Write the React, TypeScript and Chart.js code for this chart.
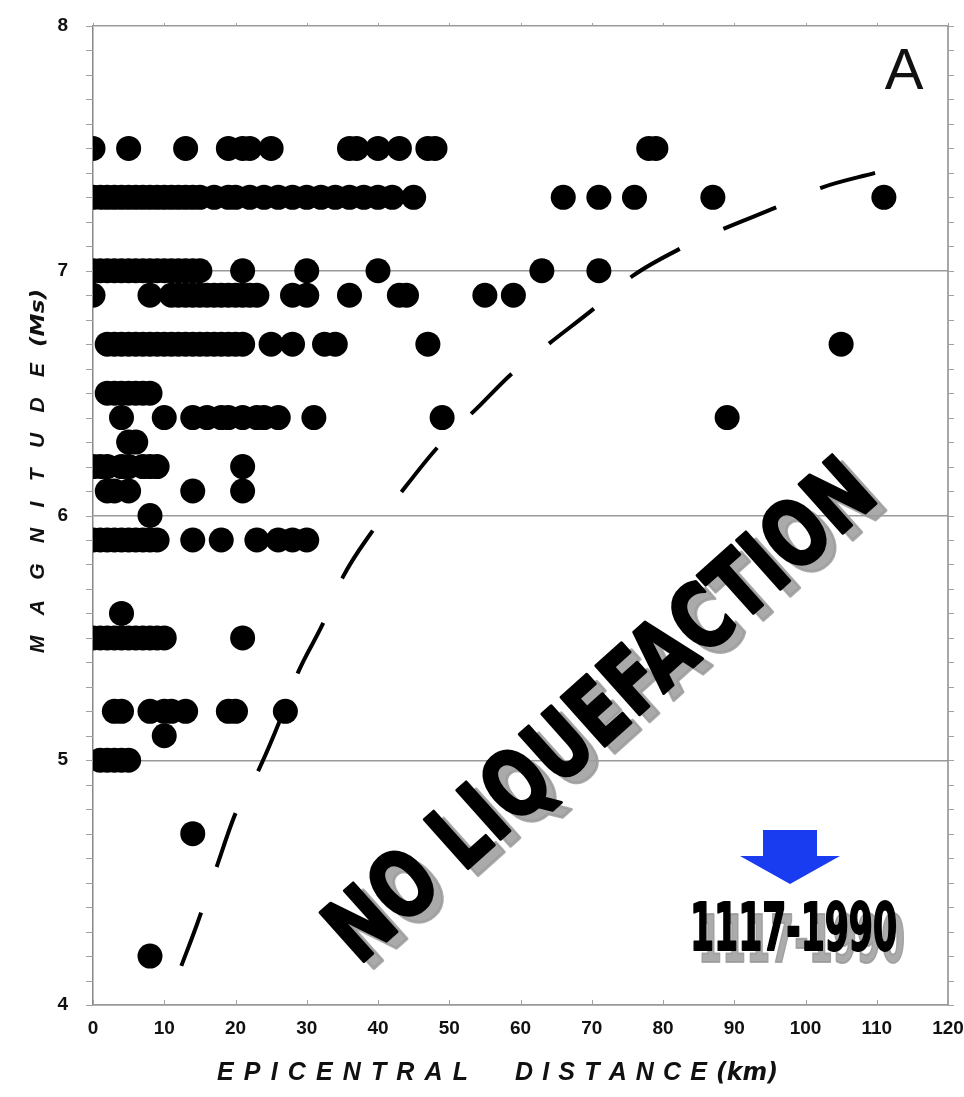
import React, { useEffect, useRef } from 'react';
import { Chart, registerables } from 'chart.js';

Chart.register(...registerables);

// ---- axis ticks ----
const xTickValues = [0, 10, 20, 30, 40, 50, 60, 70, 80, 90, 100, 110, 120];
const yTickValues = [4, 5, 6, 7, 8];

// ---- observed liquefaction cases: epicentral distance (km) per magnitude row ----
const dist75 = [0, 5, 13, 19, 21, 22, 25, 36, 37, 40, 43, 47, 48, 78, 79];
const dist73 = [0, 1, 2, 3, 4, 5, 6, 7, 8, 9, 10, 11, 12, 13, 14, 15, 17, 19, 20, 22, 24, 26, 28, 30, 32, 34, 36, 38, 40, 42, 45, 66, 71, 76, 87, 111];
const dist70 = [0, 1, 2, 3, 4, 5, 6, 7, 8, 9, 10, 11, 12, 13, 14, 15, 21, 30, 40, 63, 71];
const dist69 = [0, 8, 11, 12, 13, 14, 15, 16, 17, 18, 19, 20, 21, 22, 23, 28, 30, 36, 43, 44, 55, 59];
const dist67 = [2, 3, 4, 5, 6, 7, 8, 9, 10, 11, 12, 13, 14, 15, 16, 17, 18, 19, 20, 21, 25, 28, 32.5, 34, 47, 105];
const dist65 = [2, 3, 4, 5, 6, 7, 8];
const dist64 = [4, 10, 14, 16, 18, 19, 21, 23, 24, 26, 31, 49, 89];
const dist63 = [5, 6];
const dist62 = [0, 1, 2, 4, 5, 7, 8, 9, 21];
const dist61 = [2, 3, 5, 14, 21];
const dist60 = [8];
const dist59 = [0, 1, 2, 3, 4, 5, 6, 7, 8, 9, 14, 18, 23, 26, 28, 30];
const dist56 = [4];
const dist55 = [0, 1, 2, 3, 4, 5, 6, 7, 8, 9, 10, 21];
const dist52 = [3, 4, 8, 10, 11, 13, 19, 20, 27];
const dist51 = [10];
const dist50 = [1, 2, 3, 4, 5];
const dist47 = [14];
const dist42 = [8];

const magnitudeRows = [7.5, 7.3, 7.0, 6.9, 6.7, 6.5, 6.4, 6.3, 6.2, 6.1, 6.0, 5.9, 5.6, 5.5, 5.2, 5.1, 5.0, 4.7, 4.2];
const distanceRows = [dist75, dist73, dist70, dist69, dist67, dist65, dist64, dist63, dist62, dist61, dist60, dist59, dist56, dist55, dist52, dist51, dist50, dist47, dist42];

// ---- bounding curve (dashed) ----
const boundaryDistance = [12.4, 14.6, 17.3, 20.1, 23.4, 26.2, 28.8, 32.3, 35.1, 39.3, 43.4, 48.4, 54.3, 58.8, 63.9, 70.5, 75.8, 82.4, 88.4, 96, 102.3, 109.8];
const boundaryMagnitude = [4.16, 4.33, 4.56, 4.79, 4.97, 5.16, 5.36, 5.56, 5.75, 5.94, 6.1, 6.28, 6.45, 6.58, 6.7, 6.85, 6.98, 7.09, 7.17, 7.26, 7.34, 7.4];

// ---- texts ----
const panelLabel = 'A';
const regionLabel = 'NO LIQUEFACTION';
const periodLabel = '1117-1990';
const xTitleWords = ['EPICENTRAL', 'DISTANCE'];
const xTitleUnit = '(km)';
const yTitleWord = 'MAGNITUDE';
const yTitleUnit = '(Ms)';

function drawSpaced(ctx: CanvasRenderingContext2D, text: string, x0: number, y: number, target: number) {
  const chars = text.split('');
  const widths = chars.map((c) => ctx.measureText(c).width);
  const sum = widths.reduce((a, b) => a + b, 0);
  const gap = chars.length > 1 ? (target - sum) / (chars.length - 1) : 0;
  let x = x0;
  chars.forEach((c, i) => {
    ctx.fillText(c, x, y);
    x += widths[i] + gap;
  });
}

function drawFitted(ctx: CanvasRenderingContext2D, text: string, x0: number, y: number, target: number, stroke = 0) {
  const w = ctx.measureText(text).width;
  ctx.save();
  ctx.translate(x0, y);
  ctx.scale(target / w, 1);
  ctx.fillText(text, 0, 0);
  if (stroke > 0) {
    ctx.lineWidth = stroke;
    ctx.lineJoin = 'round';
    ctx.strokeStyle = ctx.fillStyle as string;
    ctx.strokeText(text, 0, 0);
  }
  ctx.restore();
}

const overlayPlugin = {
  id: 'overlay',
  beforeDatasetsDraw(chart: any) {
    const { ctx, chartArea: ca, scales } = chart;
    const xs = scales.x;
    const ys = scales.y;
    ctx.save();
    // right frame line
    ctx.strokeStyle = '#8a8a8a';
    ctx.lineWidth = 1.5;
    ctx.beginPath();
    ctx.moveTo(ca.right, ca.top);
    ctx.lineTo(ca.right, ca.bottom);
    ctx.stroke();
    // minor y ticks
    ctx.lineWidth = 1;
    ctx.strokeStyle = '#a0a0a0';
    for (let i = 0; i <= 40; i++) {
      const v = 4 + i * 0.1;
      const py = Math.round(ys.getPixelForValue(v)) + 0.5;
      ctx.beginPath();
      ctx.moveTo(ca.left - 7, py);
      ctx.lineTo(ca.left, py);
      ctx.moveTo(ca.right, py);
      ctx.lineTo(ca.right + 6, py);
      ctx.stroke();
    }
    // x ticks top / bottom
    xTickValues.forEach((v) => {
      const px = Math.round(xs.getPixelForValue(v)) + 0.5;
      ctx.beginPath();
      ctx.moveTo(px, ca.bottom);
      ctx.lineTo(px, ca.bottom - 5);
      ctx.moveTo(px, ca.top);
      ctx.lineTo(px, ca.top - 3);
      ctx.stroke();
    });

    // NO LIQUEFACTION diagonal label with shadow
    const size = 90;
    ctx.font = `bold ${size}px "DejaVu Sans Condensed", "DejaVu Sans", sans-serif`;
    const w = ctx.measureText(regionLabel).width;
    const sx = 700 / w;
    const ang = (-41.8 * Math.PI) / 180;
    const cx = 598;
    const cy = 708;
    const passes = [
      { dx: 10, dy: 7, color: 'rgba(155,155,155,0.85)' },
      { dx: 0, dy: 0, color: '#000' },
    ];
    passes.forEach((p) => {
      ctx.save();
      ctx.translate(cx + p.dx, cy + p.dy);
      ctx.rotate(ang);
      ctx.scale(sx, 1);
      ctx.fillStyle = p.color;
      ctx.strokeStyle = p.color;
      ctx.lineWidth = 3;
      ctx.lineJoin = 'round';
      ctx.textAlign = 'center';
      ctx.textBaseline = 'alphabetic';
      ctx.fillText(regionLabel, 0, size * 0.365);
      ctx.strokeText(regionLabel, 0, size * 0.365);
      ctx.restore();
    });
    ctx.restore();
  },
  afterDraw(chart: any) {
    const { ctx } = chart;
    ctx.save();
    ctx.fillStyle = '#111';
    ctx.textAlign = 'left';
    ctx.textBaseline = 'alphabetic';

    // panel letter
    ctx.font = '58px "Liberation Sans", Arial, sans-serif';
    ctx.textAlign = 'center';
    ctx.fillText(panelLabel, 904, 89);
    ctx.textAlign = 'left';

    // blue arrow
    ctx.fillStyle = '#1a3cf0';
    ctx.beginPath();
    ctx.moveTo(763, 830);
    ctx.lineTo(817, 830);
    ctx.lineTo(817, 856);
    ctx.lineTo(840, 856);
    ctx.lineTo(790, 884);
    ctx.lineTo(740, 856);
    ctx.lineTo(763, 856);
    ctx.closePath();
    ctx.fill();

    // period label with shadow
    ctx.font = 'bold 66px "DejaVu Sans Condensed", "DejaVu Sans", sans-serif';
    ctx.fillStyle = 'rgba(150,150,150,0.8)';
    drawFitted(ctx, periodLabel, 698, 962, 207, 2);
    ctx.fillStyle = '#000';
    drawFitted(ctx, periodLabel, 690, 950, 207, 2);

    // x title
    ctx.fillStyle = '#111';
    ctx.font = 'italic bold 25px "Liberation Sans", Arial, sans-serif';
    drawSpaced(ctx, xTitleWords[0], 217, 1080, 251);
    drawSpaced(ctx, xTitleWords[1], 515, 1080, 192);
    ctx.font = 'italic bold 25px "Liberation Sans Narrow", "DejaVu Sans Condensed", sans-serif';
    drawFitted(ctx, xTitleUnit, 716, 1080, 62);

    // y title
    ctx.save();
    ctx.translate(44, 653);
    ctx.rotate(-Math.PI / 2);
    ctx.font = 'italic bold 21px "Liberation Sans", Arial, sans-serif';
    drawSpaced(ctx, yTitleWord, 0, 0, 290);
    ctx.font = 'italic bold 20px "Liberation Sans Narrow", "DejaVu Sans Condensed", sans-serif';
    drawFitted(ctx, yTitleUnit, 306, 0, 58);
    ctx.restore();

    ctx.restore();
  },
};

export default function App() {
  const canvasRef = useRef<HTMLCanvasElement | null>(null);

  useEffect(() => {
    if (!canvasRef.current) return;
    const points: { x: number; y: number }[] = [];
    distanceRows.forEach((row, i) => {
      row.forEach((d) => points.push({ x: d, y: magnitudeRows[i] }));
    });
    const boundary = boundaryDistance.map((d, i) => ({ x: d, y: boundaryMagnitude[i] }));

    const tickFont = { family: '"Liberation Sans", Arial, sans-serif', size: 19, weight: 'bold' as const };

    const chart = new Chart(canvasRef.current, {
      type: 'scatter',
      data: {
        datasets: [
          {
            label: 'Liquefaction cases',
            data: points,
            backgroundColor: '#000',
            borderWidth: 0,
            pointRadius: 12.5,
            pointHoverRadius: 12.5,
          },
          {
            label: 'Bound',
            data: boundary,
            showLine: true,
            pointRadius: 0,
            borderColor: '#000',
            borderWidth: 4,
            borderDash: [57, 48],
            borderCapStyle: 'butt',
            cubicInterpolationMode: 'monotone',
            fill: false,
          } as any,
        ],
      },
      options: {
        responsive: false,
        animation: false,
        events: [],
        layout: { padding: { top: 26, right: 16, left: 0, bottom: 0 } },
        plugins: {
          legend: { display: false },
          tooltip: { enabled: false },
        },
        scales: {
          x: {
            type: 'linear',
            min: 0,
            max: 120,
            afterFit: (s: any) => {
              s.height = 92;
            },
            afterBuildTicks: (s: any) => {
              s.ticks = xTickValues.map((v) => ({ value: v }));
            },
            ticks: {
              autoSkip: false,
              maxRotation: 0,
              padding: 0,
              color: '#111',
              font: tickFont,
            },
            grid: {
              display: true,
              drawOnChartArea: false,
              drawTicks: true,
              tickLength: 12,
              tickColor: 'rgba(0,0,0,0)',
              color: 'rgba(0,0,0,0)',
            },
            border: { display: true, color: '#999', width: 1.5 },
          },
          y: {
            type: 'linear',
            min: 4,
            max: 8,
            afterFit: (s: any) => {
              s.width = 93;
            },
            afterBuildTicks: (s: any) => {
              s.ticks = yTickValues.map((v) => ({ value: v }));
            },
            ticks: {
              padding: 0,
              color: '#111',
              font: tickFont,
            },
            grid: {
              color: '#9a9a9a',
              lineWidth: 1.5,
              drawTicks: true,
              tickLength: 25,
              tickColor: 'rgba(0,0,0,0)',
            },
            border: { display: true, color: '#888', width: 1.5 },
          },
        },
      },
      plugins: [overlayPlugin],
    });
    return () => chart.destroy();
  }, []);

  return (
    <div style={{ position: 'absolute', left: 0, top: 0, width: 964, height: 1097, background: '#fff' }}>
      <canvas ref={canvasRef} width={964} height={1097} style={{ display: 'block' }} />
    </div>
  );
}
